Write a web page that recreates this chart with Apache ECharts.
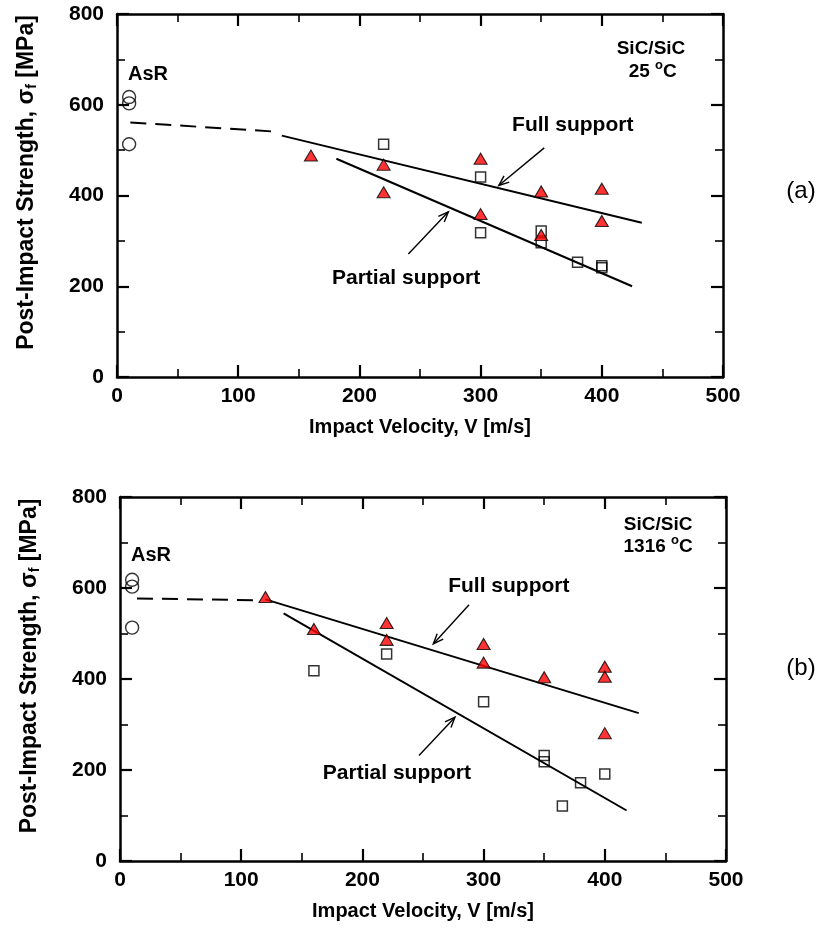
<!DOCTYPE html>
<html>
<head>
<meta charset="utf-8">
<script src="https://cdn.jsdelivr.net/npm/echarts@6/dist/echarts.min.js"></script>
<style>
  html, body { margin: 0; padding: 0; background: #fff; }
  #chart { width: 827px; height: 951px; }
</style>
</head>
<body>
<div id="chart"></div>
<script>
// ---- data (a) 25 °C ----
const asr25 = [[10, 617], [10, 603], [10, 513]];
const tri25 = [[160, 488], [220, 468], [220, 407], [300, 481], [300, 359], [350, 409], [350, 313], [400, 415], [400, 344]];
const sq25 = [[220, 513], [300, 441], [300, 318], [350, 322], [350, 296], [380, 253], [400, 245], [400, 241]];
const fullFit25 = [[136, 532], [433, 340]];
const dashFit25 = [[11, 561], [129, 541]];
const partFit25 = [[181, 481], [425, 200]];

// ---- data (b) 1316 °C ----
const asr1316 = [[10, 618], [10, 603], [10, 513]];
const tri1316 = [[120, 580], [160, 510], [220, 523], [220, 486], [300, 477], [300, 436], [350, 404], [400, 427], [400, 405], [400, 281]];
const sq1316 = [[160, 418], [220, 455], [300, 350], [350, 232], [350, 218], [365, 121], [380, 172], [400, 191]];
const fullFit1316 = [[120, 575], [428, 325]];
const dashFit1316 = [[14, 577], [115, 573]];
const partFit1316 = [[135, 544], [418, 111]];

// axis ticks
const xMin = 0, xMax = 500, xStep = 100;
const yMin = 0, yMax = 800, yStep = 200;

const font = "'Liberation Sans', Arial, Helvetica, sans-serif";

// annotation texts (in data coords of each panel)
const notes = [
  { grid: 0, at: [25.6, 667], text: 'AsR', size: 20 },
  { grid: 0, at: [440.6, 724], text: 'SiC/SiC', size: 19 },
  { grid: 0, at: [442, 672], text: '{m|25 }{sup|o}{m|C}', size: 19 },
  { grid: 0, at: [376, 555], text: 'Full support', size: 21 },
  { grid: 0, at: [238.5, 218], text: 'Partial support', size: 21 },
  { grid: 1, at: [25.6, 672], text: 'AsR', size: 20 },
  { grid: 1, at: [444, 739], text: 'SiC/SiC', size: 19 },
  { grid: 1, at: [444, 690], text: '{m|1316 }{sup|o}{m|C}', size: 19 },
  { grid: 1, at: [320.8, 603.5], text: 'Full support', size: 21 },
  { grid: 1, at: [228.5, 193.6], text: 'Partial support', size: 21 },
];
// arrows: from -> to (data coords)
const arrows = [
  { grid: 0, from: [352.5, 505], to: [315, 422] },
  { grid: 0, from: [240.4, 271], to: [273.4, 364] },
  { grid: 1, from: [288, 563], to: [258.5, 477] },
  { grid: 1, from: [246.7, 232], to: [276.4, 316] },
];

const axisLine = { show: true, onZero: false, lineStyle: { color: '#000', width: 2.5 } };
const tick = { show: true, inside: true, length: 12, lineStyle: { color: '#000', width: 2.2 } };
const minor = { show: true, splitNumber: 2, length: 8, lineStyle: { color: '#000', width: 1.6 } };

function xAxes(gi) {
  const base = {
    type: 'value', gridIndex: gi, min: xMin, max: xMax, interval: xStep,
    axisLine, axisTick: tick, minorTick: minor, splitLine: { show: false },
  };
  return [
    Object.assign({}, base, {
      position: 'bottom',
      name: 'Impact Velocity, V [m/s]',
      nameLocation: 'middle',
      nameGap: 40,
      nameTextStyle: { fontFamily: font, fontWeight: 'bold', fontSize: 20, color: '#000' },
      axisLabel: { fontFamily: font, fontWeight: 'bold', fontSize: 21, color: '#000', margin: 9 },
    }),
    Object.assign({}, base, { position: 'top', axisLabel: { show: false } }),
  ];
}

function yAxes(gi) {
  const base = {
    type: 'value', gridIndex: gi, min: yMin, max: yMax, interval: yStep,
    axisLine, axisTick: tick, minorTick: minor, splitLine: { show: false },
  };
  return [
    Object.assign({}, base, {
      position: 'left',
      name: '{a|Post-Impact Strength, σ}{s|f}{a| [MPa]}',
      nameLocation: 'middle',
      nameGap: 78,
      nameTextStyle: {
        padding: [0, 0, 0, 26],
        rich: {
          a: { fontFamily: font, fontWeight: 'bold', fontSize: 23, color: '#000', lineHeight: 24 },
          s: { fontFamily: font, fontWeight: 'bold', fontSize: 14, color: '#000', lineHeight: 12, verticalAlign: 'bottom' },
        },
      },
      axisLabel: { fontFamily: font, fontWeight: 'bold', fontSize: 21, color: '#000', margin: 13 },
    }),
    Object.assign({}, base, { position: 'right', axisLabel: { show: false } }),
  ];
}

function panelSeries(gi, asr, tri, sq, full, dash, part) {
  const line = (d, dashed) => ({
    type: 'line', xAxisIndex: gi * 2, yAxisIndex: gi * 2, data: d,
    symbol: 'none', silent: true, z: 2,
    lineStyle: { color: '#000', width: 2, type: dashed ? [16, 9] : 'solid' },
  });
  return [
    line(full, false),
    line(dash, true),
    line(part, false),
    {
      type: 'scatter', xAxisIndex: gi * 2, yAxisIndex: gi * 2, data: asr,
      symbol: 'circle', symbolSize: 13, z: 3,
      itemStyle: { color: 'rgba(0,0,0,0)', borderColor: '#000', borderWidth: 1.4 },
    },
    {
      type: 'scatter', xAxisIndex: gi * 2, yAxisIndex: gi * 2, data: sq,
      symbol: 'rect', symbolSize: 10, z: 3,
      itemStyle: { color: 'rgba(0,0,0,0)', borderColor: '#000', borderWidth: 1.5 },
    },
    {
      type: 'scatter', xAxisIndex: gi * 2, yAxisIndex: gi * 2, data: tri,
      symbol: 'triangle', symbolSize: [13, 11], z: 4,
      itemStyle: { color: '#ff0000', borderColor: '#000', borderWidth: 1.1 },
    },
  ];
}

const myChart = echarts.init(document.getElementById('chart'), null, { renderer: 'canvas' });

const option = {
  animation: false,
  backgroundColor: '#fff',
  grid: [
    { left: 117, top: 14, width: 606, height: 363 },
    { left: 120, top: 497, width: 606, height: 364 },
  ],
  xAxis: [...xAxes(0), ...xAxes(1)],
  yAxis: [...yAxes(0), ...yAxes(1)],
  series: [
    ...panelSeries(0, asr25, tri25, sq25, fullFit25, dashFit25, partFit25),
    ...panelSeries(1, asr1316, tri1316, sq1316, fullFit1316, dashFit1316, partFit1316),
  ],
};
myChart.setOption(option);

// annotations, placed with the panel's own scales
const graphic = [];
notes.forEach((n) => {
  const p = myChart.convertToPixel({ gridIndex: n.grid }, n.at);
  graphic.push({
    type: 'text', x: p[0], y: p[1], z: 10,
    style: {
      text: n.text, align: 'center', verticalAlign: 'middle',
      font: 'bold ' + n.size + 'px ' + font, fill: '#000',
      rich: {
        m: { fontFamily: font, fontWeight: 'bold', fontSize: n.size, lineHeight: 26, fill: '#000' },
        sup: { fontFamily: font, fontWeight: 'bold', fontSize: 13, lineHeight: 10, verticalAlign: 'top', fill: '#000' },
      },
    },
  });
});
arrows.forEach((a) => {
  const p0 = myChart.convertToPixel({ gridIndex: a.grid }, a.from);
  const p1 = myChart.convertToPixel({ gridIndex: a.grid }, a.to);
  const ang = Math.atan2(p1[1] - p0[1], p1[0] - p0[0]);
  const len = 11, spread = 0.38;
  const h1 = [p1[0] - len * Math.cos(ang - spread), p1[1] - len * Math.sin(ang - spread)];
  const h2 = [p1[0] - len * Math.cos(ang + spread), p1[1] - len * Math.sin(ang + spread)];
  graphic.push({ type: 'line', z: 10, shape: { x1: p0[0], y1: p0[1], x2: p1[0], y2: p1[1] }, style: { stroke: '#000', lineWidth: 1.4 } });
  graphic.push({ type: 'polyline', z: 10, shape: { points: [h1, p1, h2] }, style: { stroke: '#000', lineWidth: 1.4, fill: null } });
});
// panel tags
graphic.push({ type: 'text', x: 801, y: 191, style: { text: '(a)', align: 'center', verticalAlign: 'middle', font: '24px ' + font, fill: '#000' } });
graphic.push({ type: 'text', x: 801, y: 668, style: { text: '(b)', align: 'center', verticalAlign: 'middle', font: '24px ' + font, fill: '#000' } });

myChart.setOption({ graphic });
</script>
</body>
</html>
